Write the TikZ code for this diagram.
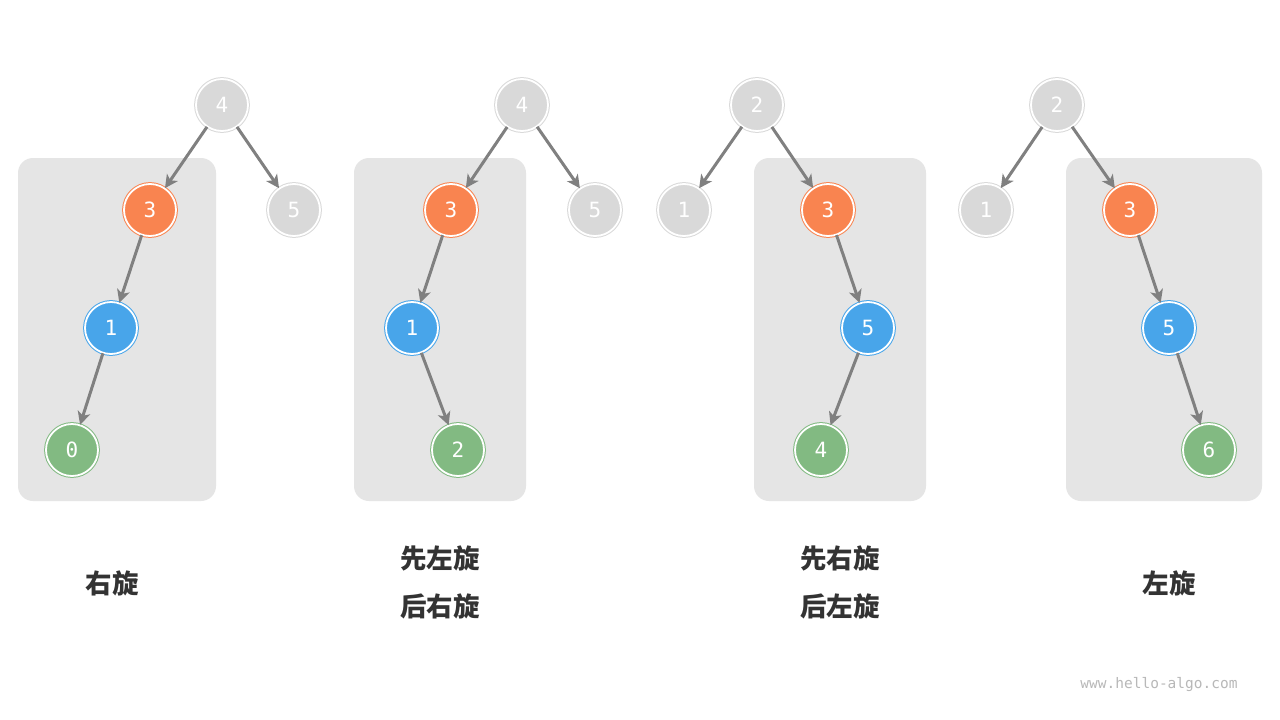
\documentclass[tikz,border=0pt]{standalone}
\usepackage{fontspec}
\usetikzlibrary{arrows.meta}
\newfontfamily\cjk{Noto Sans CJK SC}
\newfontfamily\monof{DejaVu Sans Mono}
\definecolor{cgray}{RGB}{217,217,217}
\definecolor{corange}{RGB}{249,132,80}
\definecolor{cblue}{RGB}{72,165,234}
\definecolor{cgreen}{RGB}{130,186,130}
\definecolor{cbox}{RGB}{229,229,229}
\definecolor{cedge}{RGB}{128,128,128}
\definecolor{ctext}{RGB}{51,51,51}
\tikzset{
  tnode/.style={circle, minimum size=52pt, inner sep=0pt, fill=#1, draw=#1, double=white, double distance=1.8pt, line width=1pt, text=white, font=\monof\fontsize{21}{21}\selectfont},
  edge/.style={draw=cedge, line width=3pt, -{Stealth[length=13pt,width=13pt,inset=3.5pt]}},
  bg/.style={fill=cbox, rounded corners=15pt},
  lab/.style={text=ctext, font=\cjk\bfseries\fontsize{26.5}{26.5}\selectfont, align=center},
}
\begin{document}
\begin{tikzpicture}[x=1pt,y=-1pt]
\path[fill=white] (0,0) rectangle (1280,720);
\useasboundingbox (0,0) rectangle (1280,720);
% boxes
\path[bg] (18,158) rectangle (216,501);
\path[bg] (354,158) rectangle (526,501);
\path[bg] (754,158) rectangle (926,501);
\path[bg] (1066,158) rectangle (1262,501);
% tree 1
\node[tnode=cgray] (a4) at (222,105) {4};
\node[tnode=corange] (a3) at (150,210) {3};
\node[tnode=cgray] (a5) at (294,210) {5};
\node[tnode=cblue] (a1) at (111,328) {1};
\node[tnode=cgreen] (a0) at (72,450) {0};
\draw[edge] (a4) -- (a3);
\draw[edge] (a4) -- (a5);
\draw[edge] (a3) -- (a1);
\draw[edge] (a1) -- (a0);
% tree 2
\node[tnode=cgray] (b4) at (522,105) {4};
\node[tnode=corange] (b3) at (451,210) {3};
\node[tnode=cgray] (b5) at (595,210) {5};
\node[tnode=cblue] (b1) at (412,328) {1};
\node[tnode=cgreen] (b2) at (458,450) {2};
\draw[edge] (b4) -- (b3);
\draw[edge] (b4) -- (b5);
\draw[edge] (b3) -- (b1);
\draw[edge] (b1) -- (b2);
% tree 3
\node[tnode=cgray] (c2) at (757,105) {2};
\node[tnode=cgray] (c1) at (684,210) {1};
\node[tnode=corange] (c3) at (828,210) {3};
\node[tnode=cblue] (c5) at (868,328) {5};
\node[tnode=cgreen] (c4) at (821,450) {4};
\draw[edge] (c2) -- (c1);
\draw[edge] (c2) -- (c3);
\draw[edge] (c3) -- (c5);
\draw[edge] (c5) -- (c4);
% tree 4
\node[tnode=cgray] (d2) at (1057,105) {2};
\node[tnode=cgray] (d1) at (986,210) {1};
\node[tnode=corange] (d3) at (1130,210) {3};
\node[tnode=cblue] (d5) at (1169,328) {5};
\node[tnode=cgreen] (d6) at (1209,450) {6};
\draw[edge] (d2) -- (d1);
\draw[edge] (d2) -- (d3);
\draw[edge] (d3) -- (d5);
\draw[edge] (d5) -- (d6);
% labels
\node[lab] (l1) at (112,583) {右旋};
\node[lab] (l2a) at (440,558) {先左旋};
\node[lab] (l2b) at (440,606) {后右旋};
\node[lab] (l3a) at (840,558) {先右旋};
\node[lab] (l3b) at (840,606) {后左旋};
\node[lab] (l4) at (1169,583) {左旋};
\node[text=cgray!85!black, font=\monof\fontsize{14.5}{14.5}\selectfont] (wm) at (1159,685) {www.hello-algo.com};
\end{tikzpicture}
\end{document}
